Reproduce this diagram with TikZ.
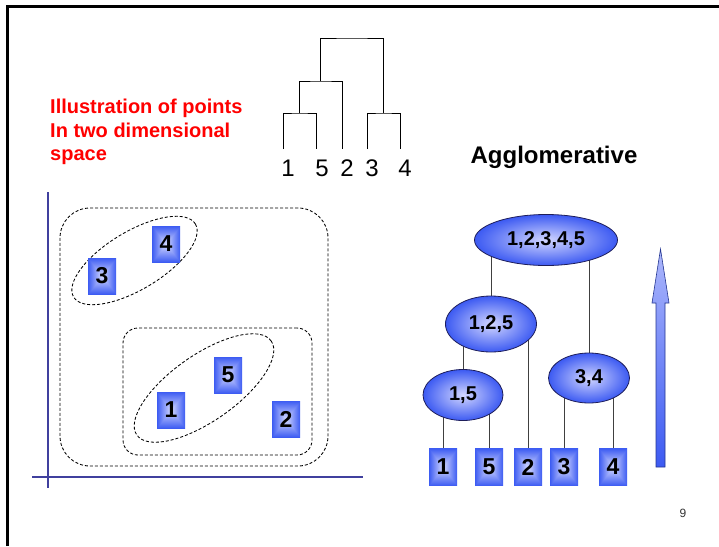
\documentclass[tikz,border=0pt]{standalone}
\usepackage{fontspec}
\setmainfont{Liberation Sans}
\usetikzlibrary{shapes.geometric, positioning, backgrounds}
\definecolor{ptblue}{HTML}{3C5AF2}
\definecolor{ptlight}{HTML}{D2D6FF}
\definecolor{axisblue}{HTML}{40409E}
\definecolor{rimnavy}{HTML}{1E1E5A}

% square glow: light centre, blue rim
\pgfdeclarefunctionalshading{boxglow}{\pgfpoint{0bp}{0bp}}{\pgfpoint{100bp}{100bp}}{}{
  50 sub abs exch 50 sub abs
  2 copy lt {exch} if pop
  25 div dup 1 gt {pop 1} if
  dup -0.59 mul 0.83 add
  exch dup -0.49 mul 0.85 add
  exch -0.05 mul 1.0 add
}

\begin{document}
\begin{tikzpicture}[
    x=1pt, y=-1pt,
    ptbox/.style={shading=boxglow, minimum width=28, minimum height=37, inner sep=0,
        font=\fontsize{23}{23}\selectfont\bfseries},
    blob/.style={ellipse, draw=rimnavy, line width=0.8, inner color=ptlight, outer color=ptblue,
        inner sep=0, font=\fontsize{20}{20}\selectfont\bfseries},
    clu/.style={draw, dashed, dash pattern=on 3 off 2, line width=0.85},
    link/.style={draw=black!75, line width=0.9},
    leaflbl/.style={inner sep=0, font=\fontsize{24}{24}\selectfont},
]
\useasboundingbox (0,0) rectangle (719,546);

% slide frame
\draw[line width=3] (7,546) -- (7,6) -- (719,6);

\node[anchor=north west, inner sep=0, align=left, text=red,
      font=\fontsize{20}{23.5}\selectfont\bfseries] (title) at (50,99)
      {Illustration of points\\In two dimensional\\space};

% dendrogram
\foreach \n/\x/\lx in {1/283/288, 5/316/322, 2/342/347, 3/367/372, 4/400/405} {
    \coordinate (d\n) at (\x,149);
    \node[leaflbl] (l\n) at (\lx,168) {\n};
}
\coordinate (m15) at (299.5,113);
\coordinate (m34) at (383.5,113);
\coordinate (m152) at (320.75,81);
\coordinate (mall) at (352,38);
\draw[line width=0.8] (d1) |- (m15) -| (d5);
\draw[line width=0.8] (m15) |- (m152) -| (d2);
\draw[line width=0.8] (d3) |- (m34) -| (d4);
\draw[line width=0.8] (m152) |- (mall) -| (m34);

\node[anchor=base, font=\fontsize{24}{24}\selectfont\bfseries] (agglo) at (554,163) {Agglomerative};

% point space
\draw[axisblue, line width=2.5] (48,192) -- (48,488);
\draw[axisblue, line width=2.5] (32,477) -- (363,477);

\node[clu, rounded corners=30, minimum width=268, minimum height=258] (call) at (194,337) {};
\node[clu, rounded corners=15, minimum width=189, minimum height=127] (c152) at (217.5,391.5) {};
\node[clu, ellipse, rotate=31, minimum width=142, minimum height=58] (c34) at (134.5,260.5) {};
\node[clu, ellipse, rotate=35, minimum width=164, minimum height=66] (c15) at (204,388) {};

\node[ptbox, minimum height=36] (p4) at (166,244) {4};
\node[ptbox, minimum height=36] (p3) at (102,276) {3};
\node[ptbox, minimum height=36] (p5) at (228,375) {5};
\node[ptbox, minimum height=36] (p1) at (171,410) {1};
\node[ptbox, minimum height=36] (p2) at (286,419) {2};

% merge tree
\node[blob, minimum width=143, minimum height=51] (eall) at (546,240) {1,2,3,4,5};
\node[blob, minimum width=91, minimum height=56] (e125) at (491,324) {1,2,5};
\node[blob, minimum width=80, minimum height=51] (e15) at (463,395) {1,5};
\node[blob, minimum width=81, minimum height=50] (e34) at (589,378) {3,4};

\node[ptbox] (s1) at (443,467) {1};
\node[ptbox] (s5) at (489,467) {5};
\node[ptbox] (s2) at (528,467) {2};
\node[ptbox] (s3) at (564,467) {3};
\node[ptbox] (s4) at (613,467) {4};

\begin{scope}[on background layer]
\foreach \a/\b in {s1/e15, s5/e15, s2/e125, s3/e34, s4/e34, e15/e125, e125/eall, e34/eall} {
    \draw[link] (\a.center) -- (\a.center |- \b.center);
}
\end{scope}

% upward arrow
\shade[bottom color=ptblue, top color=ptlight!75!ptblue, draw=ptblue!60!black, line width=0.6]
    (656,467) -- (656,303) -- (652,303) -- (660.5,249) -- (669,303) -- (665,303) -- (665,467) -- cycle;

\node[font=\fontsize{12}{12}\selectfont, text=black!80] (pageno) at (683,513) {9};

\end{tikzpicture}
\end{document}
